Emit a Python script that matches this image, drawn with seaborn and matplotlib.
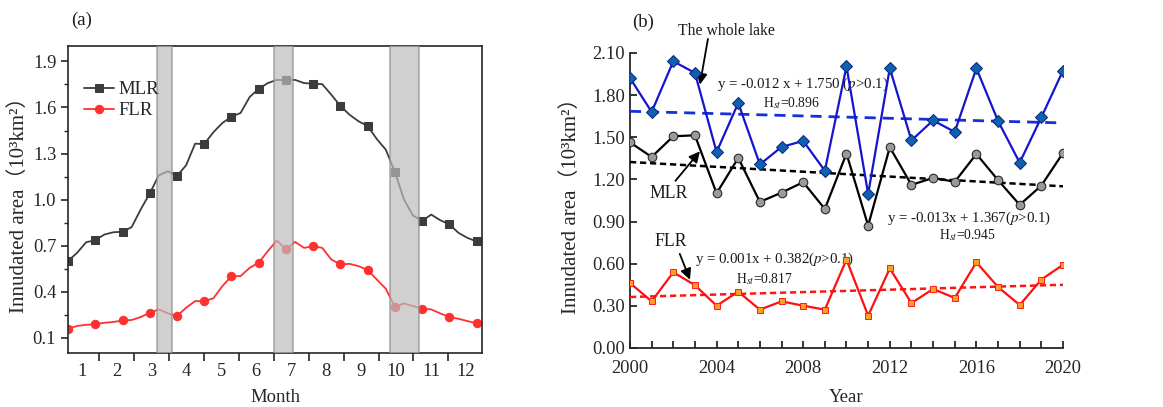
import numpy as np
import seaborn as sns
import matplotlib.pyplot as plt

# ---- panel (a): 8-day series across the year (markers every 3rd point)
mlr_8day = [0.60, 0.653, 0.722, 0.735, 0.772, 0.787, 0.79, 0.82, 0.935, 1.04,
            1.158, 1.184, 1.154, 1.223, 1.364, 1.362, 1.438, 1.499, 1.54, 1.564,
            1.668, 1.722, 1.759, 1.78, 1.778, 1.78, 1.759, 1.755, 1.752, 1.683,
            1.61, 1.553, 1.51, 1.479, 1.395, 1.325, 1.18, 1.0, 0.896, 0.861,
            0.902, 0.865, 0.839, 0.783, 0.75, 0.727, 0.757]
flr_8day = [0.158, 0.176, 0.184, 0.187, 0.197, 0.202, 0.212, 0.215, 0.234, 0.262,
            0.284, 0.258, 0.241, 0.295, 0.338, 0.338, 0.356, 0.436, 0.501, 0.501,
            0.555, 0.588, 0.664, 0.733, 0.675, 0.724, 0.685, 0.696, 0.685, 0.609,
            0.577, 0.581, 0.566, 0.54, 0.479, 0.419, 0.301, 0.323, 0.306, 0.288,
            0.284, 0.258, 0.234, 0.223, 0.208, 0.193, 0.185]
month_labels = ['1', '2', '3', '4', '5', '6', '7', '8', '9', '10', '11', '12']
bands = [(3.17, 3.58), (6.5, 7.05), (9.83, 10.66)]

# ---- panel (b): annual series
years = list(range(2000, 2021))
lake = [1.922, 1.68, 2.041, 1.958, 1.395, 1.744, 1.307, 1.431, 1.474, 1.262, 2.005,
        1.096, 1.991, 1.478, 1.62, 1.538, 1.991, 1.616, 1.319, 1.642, 1.974]
mlr_year = [1.464, 1.36, 1.507, 1.514, 1.101, 1.353, 1.04, 1.106, 1.18, 0.99, 1.384,
            0.871, 1.429, 1.161, 1.211, 1.183, 1.381, 1.195, 1.019, 1.156, 1.388]
flr_year = [0.463, 0.332, 0.539, 0.447, 0.301, 0.401, 0.273, 0.332, 0.301, 0.273, 0.629,
            0.23, 0.566, 0.32, 0.42, 0.356, 0.61, 0.434, 0.306, 0.487, 0.592]
trend_years = [2000, 2020]
trend_lake = [1.685, 1.602]
trend_mlr = [1.324, 1.151]
trend_flr = [0.363, 0.450]

sns.set_style('ticks')
plt.rcParams['font.family'] = ['Liberation Serif', 'Noto Sans CJK SC']
plt.rcParams['mathtext.fontset'] = 'stix'
txt = '#1a1a1a'
tick_fs = 13.3
lab_fs = 13.5

fig = plt.figure(figsize=(11.63, 4.07), dpi=100)
ax1 = fig.add_axes([0.0585, 0.1327, 0.356, 0.754])
ax2 = fig.add_axes([0.5417, 0.145, 0.3723, 0.7248])

# ---------- (a)
xpos = 0.6126 + 0.2599 * np.arange(len(mlr_8day))
sns.lineplot(x=xpos, y=mlr_8day, ax=ax1, color='#3c3c3c', lw=1.3, marker='s',
             markersize=5.3, markevery=3, markeredgecolor='#3c3c3c', label='MLR')
sns.lineplot(x=xpos, y=flr_8day, ax=ax1, color='#ff3030', lw=1.3, marker='o',
             markersize=6, markevery=3, markeredgecolor='#ff3030', label='FLR')
for a, b in bands:
    ax1.axvspan(a, b, facecolor='#bcbcbc', alpha=0.7, edgecolor='#8c8c8c', lw=1.2, zorder=5)

ax1.set_xlim(0.6126, 12.464)
ax1.set_ylim(0.0, 2.0)
ax1.set_yticks([0.1, 0.4, 0.7, 1.0, 1.3, 1.6, 1.9])
ax1.set_yticks(np.arange(0.25, 2.0, 0.3), minor=True)
ax1.set_xticks(np.arange(1.5, 12, 1.0))
ax1.set_xticklabels([])
ax1.set_xticks(np.arange(1, 13), minor=True)
ax1.set_xticklabels(month_labels, minor=True)
ax1.tick_params(axis='x', which='minor', length=0, labelsize=tick_fs, pad=7)
ax1.tick_params(axis='x', which='major', length=6, width=1.2, direction='out')
ax1.tick_params(axis='y', which='major', length=5, width=1.2, labelsize=tick_fs)
ax1.tick_params(axis='y', which='minor', length=3, width=1)
for s in ax1.spines.values():
    s.set_linewidth(1.2)
ax1.set_xlabel('Month', fontsize=lab_fs, labelpad=7)
ax1.set_ylabel('Innudated area（10³km²）', fontsize=15, labelpad=3)
ax1.legend(loc='upper left', bbox_to_anchor=(0.02, 0.91), frameon=False, fontsize=13.5,
           handlelength=1.6, handletextpad=0.25, borderaxespad=0.0, labelspacing=0.2)
fig.text(0.061, 0.95, '(a)', fontsize=13.5, va='center', color=txt)

# ---------- (b)
sns.lineplot(x=years, y=lake, ax=ax2, color='#1515d0', lw=1.6, marker='D', markersize=6,
             markerfacecolor='#1060b0', markeredgecolor='#0a2a80', zorder=4)
sns.lineplot(x=years, y=mlr_year, ax=ax2, color='black', lw=1.6, marker='o', markersize=6.2,
             markerfacecolor='#9a9a9a', markeredgecolor='#222222', zorder=4)
sns.lineplot(x=years, y=flr_year, ax=ax2, color='#ff1010', lw=1.6, marker='s', markersize=4.2,
             markerfacecolor='#ffa020', markeredgecolor='#ff2020', zorder=4)
sns.lineplot(x=trend_years, y=trend_lake, ax=ax2, color='#1530d8', lw=2, dashes=(4, 2.5), zorder=3)
sns.lineplot(x=trend_years, y=trend_mlr, ax=ax2, color='black', lw=1.8, dashes=(2.5, 1.5), zorder=3)
sns.lineplot(x=trend_years, y=trend_flr, ax=ax2, color='#ff1515', lw=1.8, dashes=(2.5, 1.5), zorder=3)

ax2.set_xlim(2000, 2020)
ax2.set_ylim(0, 2.1)
ax2.set_xticks(range(2000, 2021, 4))
ax2.set_xticks(years, minor=True)
ax2.set_yticks(np.arange(0, 2.11, 0.3))
ax2.set_yticklabels(['%.2f' % v for v in np.arange(0, 2.11, 0.3)])
ax2.tick_params(axis='both', which='major', direction='in', length=5, width=1.3, labelsize=tick_fs)
ax2.tick_params(axis='x', which='major', pad=9)
ax2.tick_params(axis='x', which='minor', direction='in', length=5, width=1.3)
ax2.spines['top'].set_visible(False)
ax2.spines['right'].set_visible(False)
ax2.spines['left'].set_linewidth(1.3)
ax2.spines['bottom'].set_linewidth(1.3)
for lab in ax2.get_xticklabels():
    lab.set_clip_on(False)
ax2.set_xlabel('Year', fontsize=lab_fs, labelpad=8)
ax2.set_ylabel('Innudated area（10³km²）', fontsize=15, labelpad=8)
fig.text(0.5435, 0.945, '(b)', fontsize=13.5, va='center', color=txt)

arrow = dict(arrowstyle='-|>', color='black', lw=1.3, mutation_scale=16, shrinkA=0, shrinkB=0)
ax2.annotate('', xy=(2003.23, 1.875), xytext=(2003.6, 2.2), arrowprops=arrow, annotation_clip=False)
ax2.text(2004.46, 2.254, 'The whole lake', fontsize=11.3, ha='center', va='center',
         clip_on=False, color=txt)
ax2.annotate('', xy=(2003.23, 1.40), xytext=(2002.1, 1.19), arrowprops=arrow)
ax2.text(2001.8, 1.103, 'MLR', fontsize=12.8, ha='center', va='center', color=txt)
ax2.annotate('', xy=(2002.77, 0.486), xytext=(2002.3, 0.67), arrowprops=arrow)
ax2.text(2001.9, 0.76, 'FLR', fontsize=12.8, ha='center', va='center', color=txt)

eq_fs = 10.7
h_fs = 9.8
ax2.text(2004.0, 1.875, 'y = -0.012 x + 1.750 ($p$>0.1)', fontsize=eq_fs, ha='left', va='center', color=txt)
ax2.text(2007.45, 1.744, 'H$_{st}$=0.896', fontsize=h_fs, ha='center', va='center', color=txt)
ax2.text(2011.87, 0.92, 'y = -0.013x + 1.367($p$>0.1)', fontsize=eq_fs, ha='left', va='center', color=txt)
ax2.text(2015.6, 0.807, 'H$_{st}$=0.945', fontsize=h_fs, ha='center', va='center', color=txt)
ax2.text(2003.0, 0.633, 'y = 0.001x + 0.382($p$>0.1)', fontsize=eq_fs, ha='left', va='center', color=txt)
ax2.text(2006.2, 0.491, 'H$_{st}$=0.817', fontsize=h_fs, ha='center', va='center', color=txt)

fig.savefig('out.png', dpi=100)
